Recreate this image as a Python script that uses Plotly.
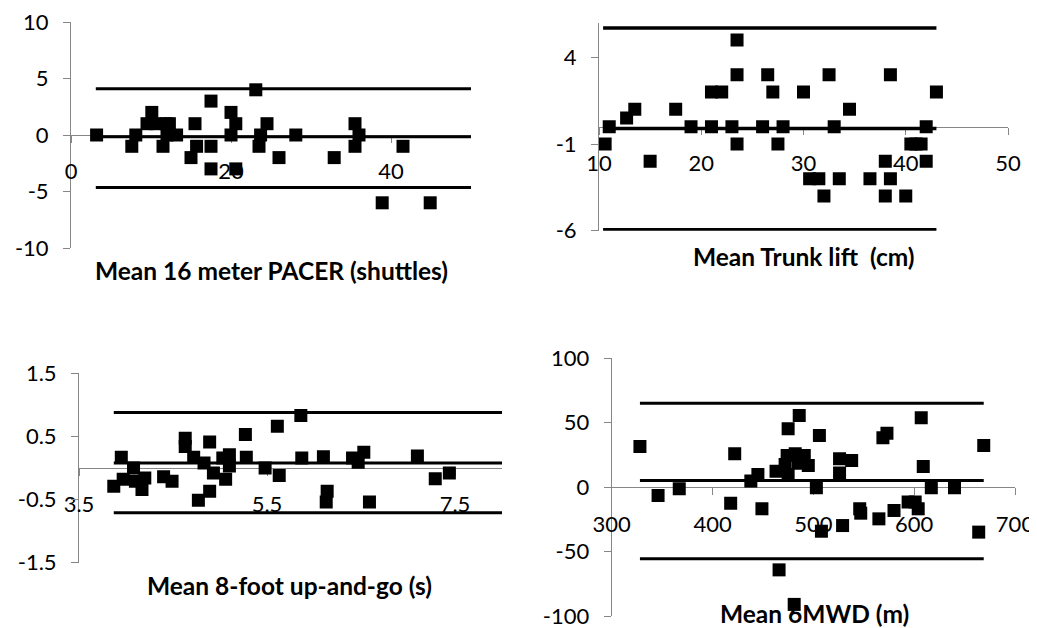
import plotly.graph_objects as go

W, H = 1037, 628          # browser window
BODY = 8                  # default page body margin
FW, FH = W - BODY, H - BODY

# ---------------- Data ----------------
# Panel 1: 16 m PACER (shuttles)
pacer_mean = [3.2, 7.6, 8.1, 9.5, 10.1, 10.6, 11.5, 11.9, 12.3, 12.0, 13.2, 15.5, 15.0, 15.7,
              17.5, 17.5, 17.5, 20.0, 20.6, 20.0, 20.6, 23.1, 23.5, 23.7, 24.5, 26.0, 28.1,
              32.9, 35.5, 35.5, 36.0, 38.9, 41.5, 44.9]
pacer_diff = [0, -1, 0, 1, 2, 1, -1, 1, 1, 0, 0, 1, -2, -1,
              3, -1, -3, 2, 1, 0, -3, 4, -1, 0, 1, -2, 0,
              -2, 1, -1, 0, -6, -1, -6]
pacer_bias = -0.15
pacer_upper = 4.1
pacer_lower = -4.65
pacer_line_x = [3.1, 50]
pacer_xticks = [0, 20, 40]
pacer_xlabels = ["0", "20", "40"]
pacer_yticks = [-10, -5, 0, 5, 10]
pacer_ylabels = ["-10", "-5", "0", "5", "10"]

# Panel 2: Trunk lift (cm)
trunk_mean = [10.6, 11.0, 12.7, 13.5, 15.0, 17.5, 19.0, 21.0, 22.0, 21.0, 23.0, 23.5, 23.5,
              23.5, 26.0, 26.5, 27.0, 27.5, 28.0, 30.0, 30.6, 31.5, 32.0, 32.5, 33.0, 33.5,
              34.5, 36.5, 38.0, 38.0, 38.5, 38.5, 40.0, 40.5, 41.0, 41.5, 42.0, 42.0, 43.0]
trunk_diff = [-1, 0, 0.5, 1, -2, 1, 0, 2, 2, 0, 0, 5, 3,
              -1, 0, 3, 2, -1, 0, 2, -3, -3, -4, 3, 0, -3,
              1, -3, -2, -4, 3, -3, -4, -1, -1, -1, 0, -2, 2]
trunk_bias = -0.1
trunk_upper = 5.7
trunk_lower = -5.95
trunk_line_x = [10.4, 43.0]
trunk_xticks = [10, 20, 30, 40, 50]
trunk_xlabels = ["10", "20", "30", "40", "50"]
trunk_yticks = [-6, -1, 4]
trunk_ylabels = ["-6", "-1", "4"]

# Panel 3: 8-foot up-and-go (s)
tug_mean = [3.87, 3.95, 3.97, 4.08, 4.10, 4.17, 4.20, 4.40, 4.49, 4.63, 4.63, 4.72, 4.77,
            4.83, 4.89, 4.89, 4.93, 5.03, 5.06, 5.10, 5.10, 5.27, 5.28, 5.48, 5.61, 5.63,
            5.86, 5.87, 6.10, 6.14, 6.13, 6.41, 6.47, 6.53, 6.59, 7.10, 7.29, 7.44]
tug_diff = [-0.29, 0.17, -0.18, 0.0, -0.21, -0.34, -0.16, -0.14, -0.21, 0.47, 0.34, 0.17, -0.51,
            0.08, 0.41, -0.37, -0.08, 0.16, -0.18, 0.21, 0.03, 0.53, 0.17, 0.0, 0.66, -0.12,
            0.83, 0.16, 0.18, -0.37, -0.54, 0.16, 0.09, 0.25, -0.54, 0.19, -0.17, -0.08]
tug_bias = 0.08
tug_upper = 0.88
tug_lower = -0.71
tug_line_x = [3.87, 8.0]
tug_xticks = [3.5, 5.5, 7.5]
tug_xlabels = ["3.5", "5.5", "7.5"]
tug_yticks = [-1.5, -0.5, 0.5, 1.5]
tug_ylabels = ["-1.5", "-0.5", "0.5", "1.5"]

# Panel 4: 6MWD (m)
mwd_mean = [328, 346, 367, 418, 422, 438, 445, 449, 463, 466, 472, 474, 475, 475, 481, 482,
            485, 486, 491, 495, 503, 506, 508, 526, 526, 529, 538, 546, 547, 565, 569, 573,
            580, 594, 601, 604, 607, 609, 617, 640, 664, 669]
mwd_diff = [31.6, -6.5, -1.3, -12.4, 25.9, 4.7, 9.8, -16.8, 12.4, -64.2, 17.6, 24.6, 45.3, 9.8,
            -91, 25.9, 18.6, 55.6, 24.6, 16.8, -0.5, 40.1, -34.2, 22.0, 10.9, -29.8, 20.7,
            -16.8, -20.2, -24.6, 38.3, 41.9, -18.1, -11.6, -11.6, -16.8, 53.8, 16.0, -0.5,
            -0.5, -34.9, 32.3]
mwd_bias = 5.2
mwd_upper = 65.2
mwd_lower = -55.6
mwd_line_x = [328, 669]
mwd_xticks = [300, 400, 500, 600, 700]
mwd_xlabels = ["300", "400", "500", "600", "700"]
mwd_yticks = [-100, -50, 0, 50, 100]
mwd_ylabels = ["-100", "-50", "0", "50", "100"]

titles = ["Mean 16 meter PACER (shuttles)", "Mean Trunk lift  (cm)",
          "Mean 8-foot up-and-go (s)", "Mean 6MWD (m)"]

# ---------------- Layout (window pixel geometry) ----------------
panels = [
    dict(mean=pacer_mean, diff=pacer_diff, bias=pacer_bias, up=pacer_upper, lo=pacer_lower,
         lx=pacer_line_x, xt=pacer_xticks, xl=pacer_xlabels, yt=pacer_yticks, yl=pacer_ylabels,
         px=(71, 471), py=(22, 248), xr=(0, 50), yr=(-10, 10), title_xy=(271, 270), lw=3),
    dict(mean=trunk_mean, diff=trunk_diff, bias=trunk_bias, up=trunk_upper, lo=trunk_lower,
         lx=trunk_line_x, xt=trunk_xticks, xl=trunk_xlabels, yt=trunk_yticks, yl=trunk_ylabels,
         px=(599, 1008), py=(22.7, 230.7), xr=(10, 50), yr=(-6, 6), title_xy=(804, 256), lw=3.5),
    dict(mean=tug_mean, diff=tug_diff, bias=tug_bias, up=tug_upper, lo=tug_lower,
         lx=tug_line_x, xt=tug_xticks, xl=tug_xlabels, yt=tug_yticks, yl=tug_ylabels,
         px=(79, 502), py=(373.3, 562.7), xr=(3.5, 8.0), yr=(-1.5, 1.5), title_xy=(289, 585), lw=3),
    dict(mean=mwd_mean, diff=mwd_diff, bias=mwd_bias, up=mwd_upper, lo=mwd_lower,
         lx=mwd_line_x, xt=mwd_xticks, xl=mwd_xlabels, yt=mwd_yticks, yl=mwd_ylabels,
         px=(611.7, 1015), py=(358.3, 616), xr=(300, 700), yr=(-100, 100), title_xy=(814, 613), lw=3),
]


def fx(px):
    return (px - BODY) / FW


def fy(py):
    return 1 - (py - BODY) / FH


FONT = "Lato"
AXIS_GRAY = "#868686"
tickfont = dict(family=FONT, size=22, color="black")

fig = go.Figure()
layout = dict(
    width=FW, height=FH, margin=dict(l=0, r=0, t=0, b=0, pad=0, autoexpand=False),
    paper_bgcolor="white", plot_bgcolor="white", showlegend=False,
    annotations=[],
)

for i, p in enumerate(panels, start=1):
    xa = "x" if i == 1 else f"x{i}"
    ya = "y" if i == 1 else f"y{i}"
    xdom = [fx(p["px"][0]), fx(p["px"][1])]
    ydom = [fy(p["py"][1]), fy(p["py"][0])]
    y0, y1 = p["yr"]
    zero_pos = ydom[0] + (0 - y0) / (y1 - y0) * (ydom[1] - ydom[0])

    # limit-of-agreement and bias lines
    for val in (p["up"], p["bias"], p["lo"]):
        fig.add_trace(go.Scatter(x=p["lx"], y=[val, val], mode="lines",
                                 line=dict(color="black", width=p["lw"]),
                                 xaxis=xa, yaxis=ya, hoverinfo="skip"))
    fig.add_trace(go.Scatter(x=p["mean"], y=p["diff"], mode="markers",
                             marker=dict(symbol="square", size=13, color="black"),
                             xaxis=xa, yaxis=ya))

    layout["xaxis" if i == 1 else f"xaxis{i}"] = dict(
        domain=xdom, range=list(p["xr"]), anchor="free", position=zero_pos,
        showline=True, linecolor=AXIS_GRAY, linewidth=1, mirror=False,
        ticks="outside", ticklen=7, tickcolor=AXIS_GRAY, tickwidth=1,
        tickmode="array", tickvals=p["xt"], ticktext=p["xl"],
        showgrid=False, zeroline=False, tickfont=tickfont, layer="below traces",
        ticklabelstandoff=10, automargin=False, ticklabeloverflow="allow",
    )
    layout["yaxis" if i == 1 else f"yaxis{i}"] = dict(
        domain=ydom, range=list(p["yr"]), anchor=xa, side="left",
        showline=True, linecolor=AXIS_GRAY, linewidth=1,
        ticks="outside", ticklen=7, tickcolor=AXIS_GRAY, tickwidth=1,
        tickmode="array", tickvals=p["yt"], ticktext=p["yl"],
        showgrid=False, zeroline=False, tickfont=tickfont, layer="below traces",
        ticklabelstandoff=10, automargin=False, ticklabeloverflow="allow",
    )
    layout["annotations"].append(dict(
        text=f"<b>{titles[i-1]}</b>", xref="paper", yref="paper",
        x=fx(p["title_xy"][0]), y=fy(p["title_xy"][1]),
        xanchor="center", yanchor="middle", showarrow=False,
        font=dict(family=FONT, size=24.5, color="black"),
    ))

fig.update_layout(**layout)
fig.write_html("out.html")
